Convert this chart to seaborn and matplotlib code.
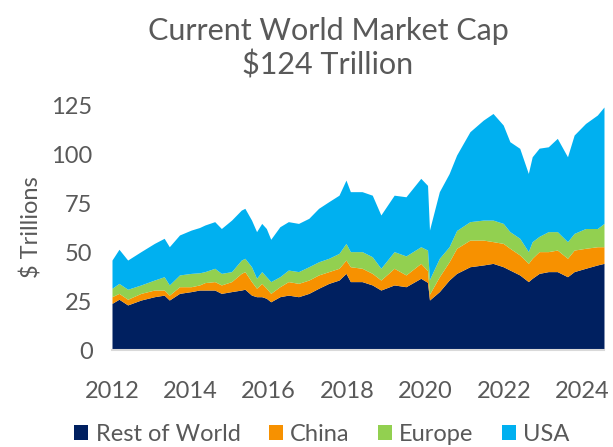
import numpy as np
import pandas as pd
import matplotlib.pyplot as plt
import matplotlib.dates as mdates
from matplotlib.patches import Patch
import seaborn as sns

# ==================== DATA ($ trillions) ====================

DATES = [
    '2012-01-01', '2012-03-06', '2012-05-26', '2012-09-27', '2013-01-30',
    '2013-05-01', '2013-06-18', '2013-09-21', '2014-01-08', '2014-03-26',
    '2014-05-16', '2014-08-15', '2014-10-16', '2015-01-19', '2015-04-20',
    '2015-05-23', '2015-07-24', '2015-09-09', '2015-10-27', '2015-12-09',
    '2016-01-19', '2016-04-13', '2016-07-01', '2016-10-04', '2017-01-08',
    '2017-04-09', '2017-07-13', '2017-10-16', '2017-12-20', '2018-01-30',
    '2018-05-19', '2018-08-22', '2018-11-10', '2019-03-14', '2019-07-02',
    '2019-11-17', '2020-01-19', '2020-02-06', '2020-05-08', '2020-08-07',
    '2020-10-16', '2021-02-17', '2021-06-21', '2021-09-20', '2021-12-24',
    '2022-02-24', '2022-05-27', '2022-08-15', '2022-09-20', '2022-11-24',
    '2023-02-17', '2023-05-12', '2023-08-15', '2023-10-16', '2024-01-30',
    '2024-05-19', '2024-07-20',
]

rest_of_world = [
    23.8, 25.9, 23.0, 25.5, 27.2, 28.0, 25.5, 28.9, 29.8, 30.6,
    30.6, 30.6, 28.9, 29.8, 30.6, 31.0, 28.0, 27.2, 27.2, 26.4,
    24.6, 27.2, 28.0, 27.2, 28.9, 31.5, 34.0, 35.7, 39.1, 34.9,
    34.9, 33.2, 30.6, 33.2, 32.3, 36.6, 34.5, 25.5, 29.8, 35.7,
    39.1, 42.5, 43.4, 44.2, 42.5, 40.8, 38.3, 34.9, 36.6, 39.1,
    40.0, 40.0, 37.4, 40.0, 41.7, 43.4, 44.2,
]
china = [
    3.4, 3.0, 2.9, 3.4, 3.4, 2.6, 2.5, 3.4, 2.5, 2.6,
    3.8, 4.3, 4.3, 5.1, 8.5, 9.0, 6.9, 4.3, 6.8, 5.1,
    4.3, 5.1, 6.9, 6.8, 6.8, 6.8, 6.0, 6.0, 6.8, 7.6,
    6.8, 5.9, 5.1, 8.5, 6.0, 7.6, 6.0, 3.0, 7.6, 9.3,
    12.8, 13.6, 12.7, 11.1, 11.9, 11.1, 10.2, 9.3, 10.2, 11.1,
    10.2, 11.0, 9.4, 11.0, 10.2, 9.3, 8.5,
]
europe = [
    4.3, 5.1, 5.1, 4.3, 5.1, 6.8, 5.2, 6.0, 6.8, 6.2,
    5.6, 6.8, 5.9, 5.1, 6.8, 6.8, 7.6, 5.1, 6.0, 5.9,
    6.0, 5.1, 5.9, 6.0, 6.8, 6.7, 6.8, 7.6, 8.5, 7.7,
    8.5, 8.5, 6.0, 8.5, 9.7, 8.5, 10.5, 7.5, 9.4, 7.7,
    9.1, 9.4, 10.2, 11.0, 10.2, 8.5, 8.5, 6.0, 8.5, 7.8,
    10.2, 9.4, 8.5, 8.5, 10.1, 9.3, 11.9,
]
usa = [
    14.4, 17.4, 14.9, 17.0, 18.7, 19.6, 19.5, 20.4, 22.1, 23.1,
    23.8, 23.8, 22.9, 26.3, 25.5, 25.5, 23.8, 23.8, 24.6, 24.6,
    21.6, 25.5, 24.7, 24.6, 24.7, 27.3, 28.9, 29.7, 32.3, 30.6,
    30.6, 31.4, 27.2, 28.8, 30.2, 34.9, 33.0, 25.2, 34.0, 37.3,
    38.5, 45.9, 51.0, 54.4, 50.2, 45.9, 45.9, 39.9, 43.3, 45.0,
    43.3, 47.6, 43.3, 50.2, 53.6, 57.9, 59.4,
]

SERIES = ['Rest of World', 'China', 'Europe', 'USA']
COLORS = ['#002060', '#F79100', '#92D050', '#00B0F0']
YEAR_TICKS = list(range(2012, 2025, 2))
Y_TICKS = [0, 25, 50, 75, 100, 125]

df = pd.DataFrame({
    'Rest of World': rest_of_world,
    'China': china,
    'Europe': europe,
    'USA': usa,
}, index=pd.to_datetime(DATES))

# ==================== PLOT ====================

sns.set_style('white')
plt.rcParams['font.family'] = ['Lato', 'DejaVu Sans']
GREY = '#595959'

fig = plt.figure(figsize=(6.13, 4.47), dpi=100)
ax = fig.add_axes([0.1827, 0.217, 0.8026, 0.548])

ax.stackplot(
    df.index,
    [df[s] for s in SERIES],
    colors=COLORS,
    linewidth=0
)

ax.set_xlim(df.index[0], df.index[-1])
ax.set_ylim(0, 125)
ax.set_yticks(Y_TICKS)
ax.set_xticks(pd.to_datetime([f'{y}-01-01' for y in YEAR_TICKS]))
ax.xaxis.set_major_formatter(mdates.DateFormatter('%Y'))

ax.tick_params(axis='both', length=0, labelsize=17, labelcolor=GREY)
ax.tick_params(axis='x', pad=22)
ax.tick_params(axis='y', pad=14)

ax.set_ylabel('$ Trillions', fontsize=17, color=GREY, labelpad=6)

sns.despine(ax=ax, left=True)
ax.spines['bottom'].set_color('#D9D9D9')
ax.spines['bottom'].set_linewidth(1.5)

# title, two lines
fig.text(0.535, 0.93, 'Current World Market Cap',
         ha='center', va='center', fontsize=22, color=GREY)
fig.text(0.535, 0.855, '$124 Trillion',
         ha='center', va='center', fontsize=22, color=GREY)

handles = [Patch(facecolor=c, edgecolor='none') for c in COLORS]
fig.legend(
    handles, SERIES,
    loc='center', bbox_to_anchor=(0.525, 0.029),
    ncol=4, frameon=False, fontsize=17, labelcolor=GREY,
    handlelength=0.6, handleheight=0.6, handletextpad=0.3,
    columnspacing=1.2
)

fig.savefig('out.png', dpi=100)
